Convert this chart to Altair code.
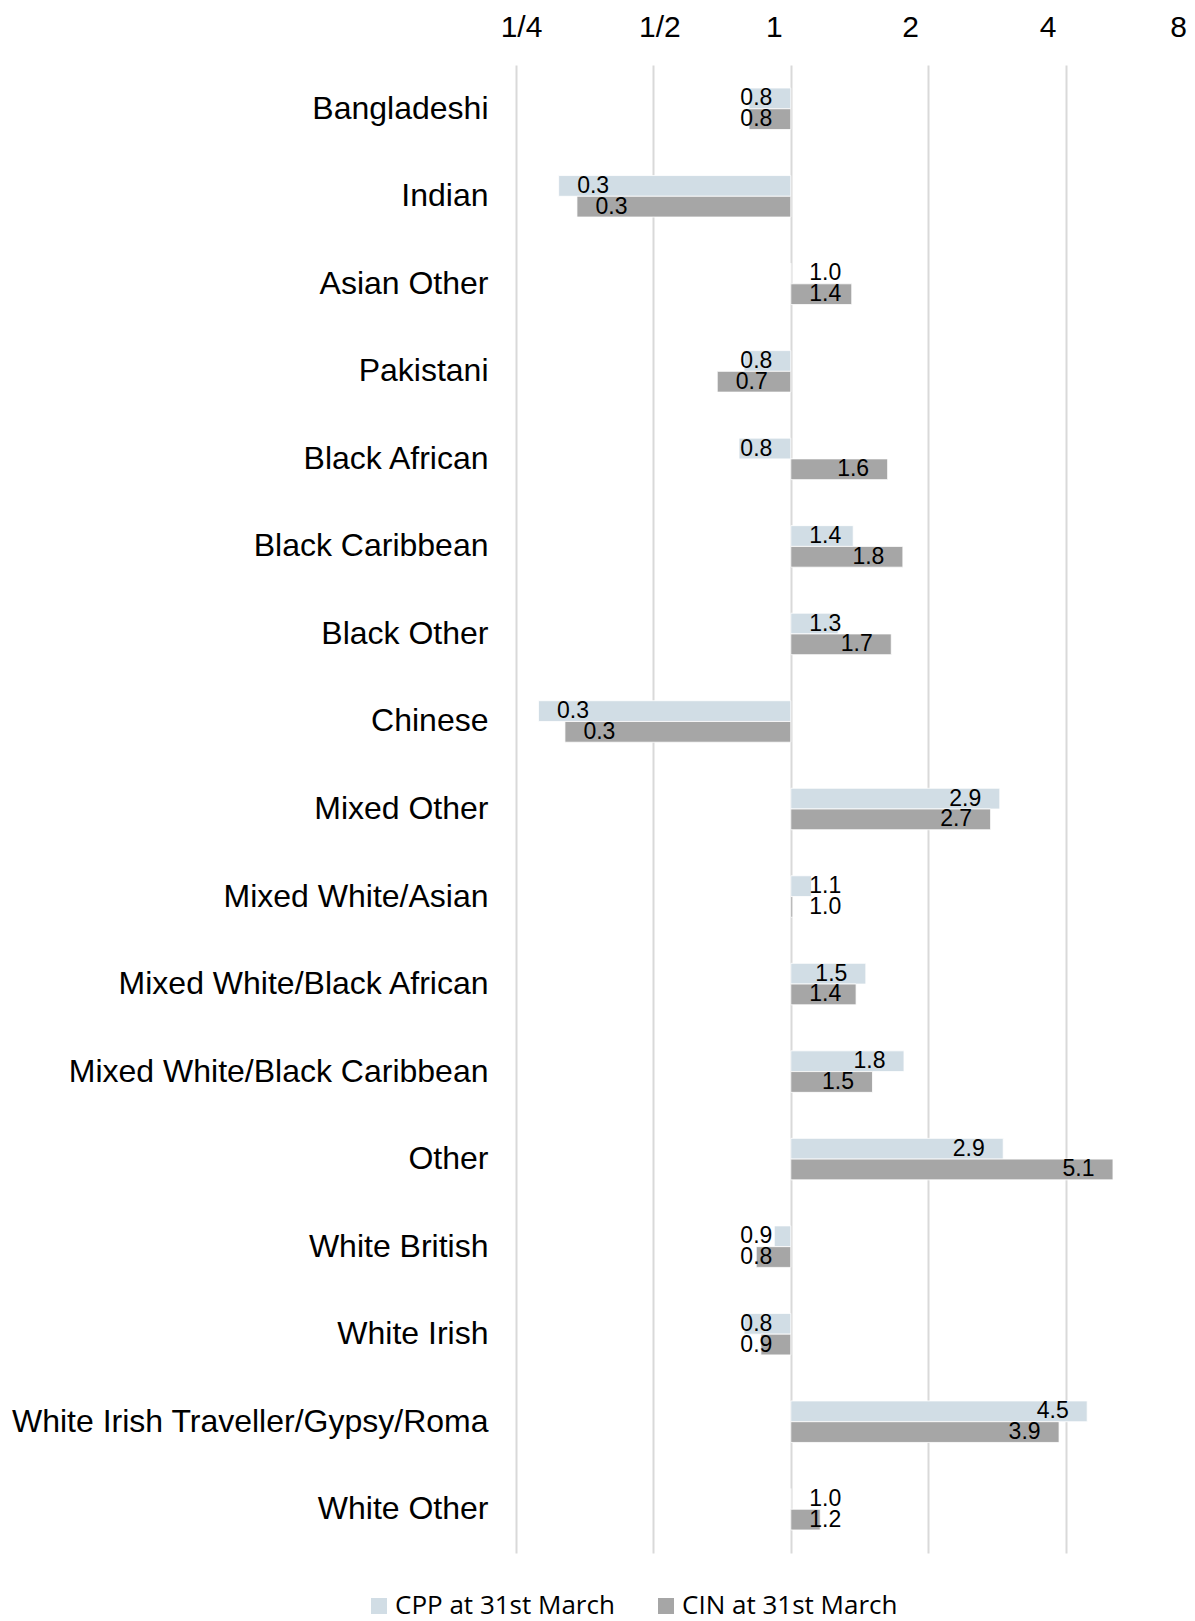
import altair as alt
import pandas as pd

categories = [
    "Bangladeshi", "Indian", "Asian Other", "Pakistani", "Black African",
    "Black Caribbean", "Black Other", "Chinese", "Mixed Other",
    "Mixed White/Asian", "Mixed White/Black African",
    "Mixed White/Black Caribbean", "Other", "White British", "White Irish",
    "White Irish Traveller/Gypsy/Roma", "White Other",
]
cpp_values = [0.81, 0.31, 1.0, 0.79, 0.77, 1.37, 1.27, 0.28, 2.87, 1.11,
              1.46, 1.77, 2.92, 0.92, 0.79, 4.46, 1.0]
cin_values = [0.81, 0.34, 1.36, 0.69, 1.63, 1.76, 1.66, 0.32, 2.74, 1.01,
              1.39, 1.51, 5.08, 0.84, 0.86, 3.87, 1.16]
series_names = ["CPP at 31st March", "CIN at 31st March"]
series_colors = ["#D1DDE5", "#A6A6A6"]
tick_values = [0.25, 0.5, 1, 2, 4, 8]
tick_labels = ["1/4", "1/2", "1", "2", "4", "8"]
# small horizontal shifts of the tick labels, as in the original layout
tick_label_shift = [5, 6, -17, -18, -18, -25]

rows = []
for cat, a, b in zip(categories, cpp_values, cin_values):
    rows.append({"group": cat, "series": series_names[0], "value": a, "base": 1})
    rows.append({"group": cat, "series": series_names[1], "value": b, "base": 1})
df = pd.DataFrame(rows)

label_expr = "datum.label"
for v, lab in reversed(list(zip(tick_values, tick_labels))):
    label_expr = f"datum.value == {v} ? '{lab}' : ({label_expr})"

offset_cond = {
    "condition": [{"test": f"datum.value == {v}", "value": s}
                  for v, s in zip(tick_values, tick_label_shift)],
    "value": 0,
}

FONT = "Liberation Sans"
PLOT_W = 664
RANGE_W = 687  # five doublings; the last gridline (8) falls just past the visible edge

xscale = alt.Scale(type="log", base=2, domain=[0.25, 8], range=[0, RANGE_W])
y_enc = alt.Y(
    "group:N", sort=categories, title=None,
    scale=alt.Scale(paddingInner=0.526, paddingOuter=0.263),
    axis=alt.Axis(labelFontSize=32, labelFont=FONT, labelColor="#000000",
                  labelPadding=28, ticks=False, domain=False, labelLimit=600),
)
yoff = alt.YOffset("series:N", sort=series_names, scale=alt.Scale(paddingInner=0))

base = alt.Chart(df)

bars = base.mark_bar(stroke="white", strokeWidth=0.8).encode(
    x=alt.X("value:Q", scale=xscale, title=None,
            axis=alt.Axis(orient="top", values=tick_values, labelExpr=label_expr,
                          labelFontSize=30, labelFont=FONT, labelColor="#000000",
                          labelPadding=23, ticks=False, tickSize=0, domain=False,
                          grid=True, gridColor="#D9D9D9", gridWidth=2,
                          labelOffset=offset_cond,
                          labelFlush=False, labelOverlap=False)),
    x2="base:Q",
    y=y_enc,
    yOffset=yoff,
    color=alt.Color(
        "series:N", sort=series_names,
        scale=alt.Scale(domain=series_names, range=series_colors),
        legend=alt.Legend(
            title=None, orient="none", direction="horizontal",
            legendX=-150, legendY=1528,
            symbolType="square", symbolSize=256, symbolStrokeWidth=0,
            labelFont="Open Sans", labelFontSize=26, labelColor="#000000",
            labelOffset=3, columnPadding=38, labelLimit=500,
        ),
    ),
)

labels = base.transform_calculate(
    labelpos="datum.value >= 1 ? max(datum.value / 1.19, 1.19) : min(datum.value * 1.19, 1 / 1.19)"
).mark_text(fontSize=23, font=FONT, color="#000000", align="center", baseline="middle").encode(
    x=alt.X("labelpos:Q", scale=xscale),
    y=y_enc,
    yOffset=yoff,
    text=alt.Text("value:Q", format=".1f"),
)

chart = alt.layer(bars, labels).properties(
    width=PLOT_W, height=1488,
    autosize=alt.AutoSizeParams(type="none"),
    padding={"left": 508, "top": 57, "right": 7, "bottom": 68},
    background="white",
).configure_view(stroke=None)

chart.save("out.html", embed_options={"renderer": "svg", "actions": False})
